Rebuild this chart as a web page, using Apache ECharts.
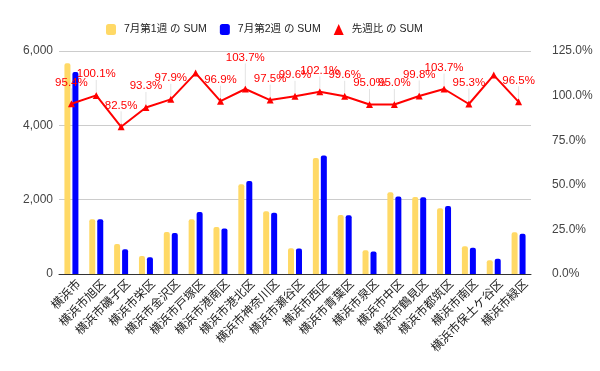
<!DOCTYPE html>
<html><head><meta charset="utf-8">
<script src="https://cdn.jsdelivr.net/npm/echarts@6/dist/echarts.min.js"></script>
<style>html,body{margin:0;padding:0;background:#fff}#c{width:600px;height:371px}</style>
</head><body><div id="c"></div>
<script>
const categories = ['横浜市','横浜市旭区','横浜市磯子区','横浜市栄区','横浜市金沢区','横浜市戸塚区','横浜市港南区','横浜市港北区','横浜市神奈川区','横浜市瀬谷区','横浜市西区','横浜市青葉区','横浜市泉区','横浜市中区','横浜市鶴見区','横浜市都筑区','横浜市南区','横浜市保土ケ谷区','横浜市緑区'];
const week1 = [5669,1471,807,484,1130,1471,1264,2413,1687,691,3121,1587,637,2198,2072,1767,744,368,1121];
const week2 = [5434,1473,666,452,1106,1668,1225,2500,1645,688,3187,1581,605,2088,2068,1832,709,410,1082];
const ratio = [95.4,100.1,82.5,93.3,97.9,112.6,96.9,103.7,97.5,99.6,102.1,99.6,95.0,95.0,99.8,103.7,95.3,111.5,96.5];
const hiddenLabels = [5,17];
const leftTicks = {min:0,max:6000,interval:2000};
const rightTicks = {min:0,max:125,interval:25};

const FONT = "Arial, 'Liberation Sans', 'Noto Sans CJK JP', sans-serif";
const chart = echarts.init(document.getElementById('c'));
chart.setOption({
  animation:false,
  textStyle:{fontFamily:FONT},
  legend:{
    top:19, left:101, itemGap:13, itemWidth:10, itemHeight:11,
    textStyle:{fontSize:10.5,color:'#222',fontFamily:FONT,padding:[0,0,0,3]},
    data:[{name:'7月第1週 の SUM',icon:'roundRect'},{name:'7月第2週 の SUM',icon:'roundRect'},{name:'先週比 の SUM',icon:'triangle'}]
  },
  grid:{left:59,right:69,top:51,bottom:97},
  xAxis:{
    type:'category', data:categories,
    axisLine:{lineStyle:{color:'#333',width:1}},
    axisTick:{show:false},
    axisLabel:{rotate:45,fontSize:12,color:'#222',interval:0,margin:16,fontFamily:FONT,padding:[0,-11,0,0]}
  },
  yAxis:[
    {type:'value',min:leftTicks.min,max:leftTicks.max,interval:leftTicks.interval,
     axisLine:{show:false},axisTick:{show:false},
     splitLine:{lineStyle:{color:'#ccc'}},
     axisLabel:{fontSize:12,color:'#444',margin:6,fontFamily:FONT,formatter:v=>v.toLocaleString('en-US')}},
    {type:'value',min:rightTicks.min,max:rightTicks.max,interval:rightTicks.interval,
     axisLine:{show:false},axisTick:{show:false},splitLine:{show:false},
     axisLabel:{fontSize:12,color:'#444',margin:21,fontFamily:FONT,formatter:v=>v.toFixed(1)+'%'}}
  ],
  series:[
    {name:'7月第1週 の SUM',type:'bar',data:week1,barWidth:6,barGap:'33%',
     itemStyle:{color:'#ffd966',borderRadius:[2,2,0,0]}},
    {name:'7月第2週 の SUM',type:'bar',data:week2,barWidth:6,
     itemStyle:{color:'#0000ff',borderRadius:[2,2,0,0]}},
    {name:'先週比 の SUM',type:'line',yAxisIndex:1,
     data:ratio.map((v,i)=>hiddenLabels.includes(i)?{value:v,label:{show:false}}:v),
     symbol:'triangle',symbolSize:7,
     lineStyle:{color:'#ff0000',width:2},itemStyle:{color:'#ff0000'},
     label:{show:true,position:'top',distance:1,color:'#ff0000',fontSize:11.5,fontFamily:FONT,formatter:p=>p.value.toFixed(1)+'%'},
     labelLayout:p=>({dy: p.dataIndex===7 ? -21 : -11}),
     labelLine:{show:true,lineStyle:{color:'#e3e3e3',width:1}}}
  ]
});
</script></body></html>
